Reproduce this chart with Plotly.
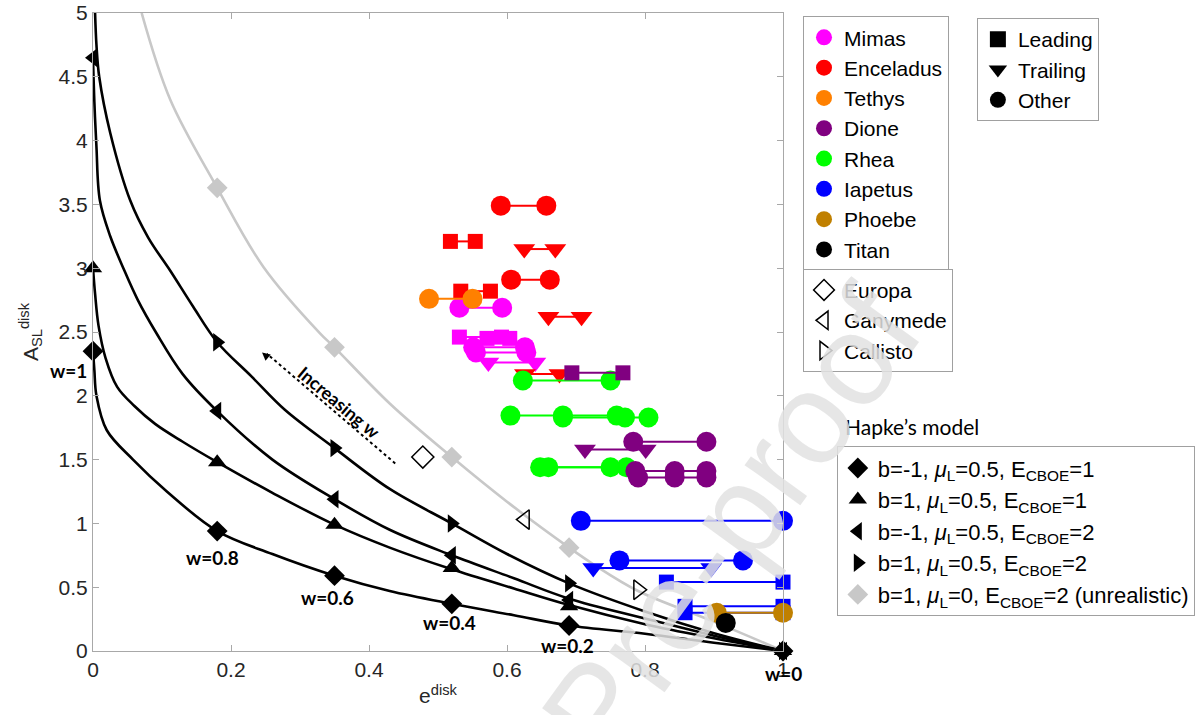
import plotly.graph_objects as go

# ---------------- Hapke model curves ----------------
w_labels = ["w=1", "w=0.8", "w=0.6", "w=0.4", "w=0.2", "w=0"]
e_w = [0.0, 0.18, 0.35, 0.52, 0.69, 1.0]
A_diamond_w = [2.35, 0.94, 0.59, 0.37, 0.20, 0.0]
A_tri_up_w = [3.0, 1.48, 0.99, 0.65, 0.35, 0.0]
A_tri_left_w = [4.65, 1.88, 1.19, 0.75, 0.40, 0.0]
A_tri_right_w = [None, 2.42, 1.59, 1.00, 0.53, 0.0]
A_grey_w = [None, 3.63, 2.38, 1.52, 0.81, 0.0]

diamond_e = [0.0, 0.002, 0.005, 0.02, 0.058, 0.107, 0.18, 0.26, 0.35, 0.43, 0.52, 0.61, 0.69, 0.80, 0.90, 1.0]
diamond_A = [2.35, 2.2, 2.0, 1.73, 1.5, 1.25, 0.94, 0.76, 0.59, 0.47, 0.37, 0.28, 0.20, 0.135, 0.065, 0.0]
tri_up_e = [0.0, 0.003, 0.008, 0.018, 0.035, 0.06, 0.09, 0.13, 0.18, 0.26, 0.35, 0.43, 0.52, 0.61, 0.69, 0.80, 0.90, 1.0]
tri_up_A = [3.0, 2.8, 2.55, 2.3, 2.07, 1.92, 1.78, 1.64, 1.48, 1.24, 0.99, 0.81, 0.64, 0.49, 0.36, 0.21, 0.10, 0.0]
tri_left_e = [0.0, 0.002, 0.005, 0.010, 0.025, 0.044, 0.065, 0.092, 0.13, 0.18, 0.26, 0.35, 0.43, 0.52, 0.61, 0.69, 0.80, 0.90, 1.0]
tri_left_A = [4.65, 4.3, 3.95, 3.53, 3.25, 3.0, 2.75, 2.49, 2.17, 1.88, 1.5, 1.19, 0.95, 0.75, 0.57, 0.41, 0.255, 0.12, 0.0]
tri_right_e = [0.003, 0.005, 0.009, 0.025, 0.054, 0.08, 0.112, 0.145, 0.18, 0.23, 0.278, 0.35, 0.43, 0.52, 0.60, 0.69, 0.80, 0.90, 1.0]
tri_right_A = [5.0, 4.75, 4.5, 4.06, 3.53, 3.24, 2.98, 2.70, 2.42, 2.15, 1.89, 1.59, 1.27, 1.0, 0.76, 0.53, 0.31, 0.14, 0.0]
grey_e = [0.0705, 0.112, 0.18, 0.247, 0.329, 0.35, 0.43, 0.52, 0.60, 0.69, 0.725, 0.79, 0.90, 1.0]
grey_A = [5.0, 4.32, 3.63, 3.01, 2.49, 2.38, 1.94, 1.52, 1.17, 0.81, 0.68, 0.47, 0.23, 0.0]

hapke_names = [
    "b=-1, <i>μ</i><sub>L</sub>=0.5, E<sub>CBOE</sub>=1",
    "b=1, <i>μ</i><sub>L</sub>=0.5, E<sub>CBOE</sub>=1",
    "b=-1, <i>μ</i><sub>L</sub>=0.5, E<sub>CBOE</sub>=2",
    "b=1, <i>μ</i><sub>L</sub>=0.5, E<sub>CBOE</sub>=2",
    "b=1, <i>μ</i><sub>L</sub>=0, E<sub>CBOE</sub>=2 (unrealistic)",
]

# ---------------- Observations (Saturn moons) ----------------
moons = ["Mimas", "Enceladus", "Tethys", "Dione", "Rhea", "Iapetus", "Phoebe", "Titan"]
moon_colors = ["#FF00FF", "#FF0000", "#FF8000", "#800080", "#00FF00", "#0000FF", "#C08000", "#000000"]

mimas_e = [[0.531, 0.592], [0.571, 0.604], [0.551, 0.626], [0.555, 0.628], [0.573, 0.641], [0.531, 0.593]]
mimas_A = [2.46, 2.45, 2.38, 2.34, 2.26, 2.69]
mimas_type = ["Leading", "Leading", "Other", "Other", "Trailing", "Other"]

enceladus_e = [[0.591, 0.657], [0.518, 0.554], [0.625, 0.670], [0.606, 0.662], [0.533, 0.576], [0.660, 0.708], [0.626, 0.676]]
enceladus_A = [3.49, 3.21, 3.15, 2.91, 2.82, 2.62, 2.17]
enceladus_type = ["Other", "Leading", "Trailing", "Other", "Leading", "Trailing", "Trailing"]

tethys_e = [[0.487, 0.550]]
tethys_A = [2.76]
tethys_type = ["Other"]

rhea_e = [[0.623, 0.750], [0.605, 0.681, 0.759], [0.681, 0.771, 0.805], [0.648, 0.750], [0.660, 0.773]]
rhea_A = [2.12, 1.845, 1.83, 1.44, 1.44]
rhea_type = ["Other", "Other", "Other", "Other", "Other"]

dione_e = [[0.694, 0.768], [0.783, 0.889], [0.713, 0.801], [0.786, 0.843, 0.889], [0.790, 0.843, 0.889]]
dione_A = [2.18, 1.64, 1.58, 1.41, 1.36]
dione_type = ["Leading", "Other", "Trailing", "Other", "Other"]

iapetus_e = [[0.707, 1.0], [0.763, 0.942], [0.725, 0.896], [0.831, 1.0], [0.858, 1.0], [0.858, 1.0]]
iapetus_A = [1.02, 0.71, 0.65, 0.54, 0.35, 0.30]
iapetus_type = ["Other", "Other", "Trailing", "Leading", "Leading", "Leading"]

phoebe_e = [[0.904, 1.0]]
phoebe_A = [0.30]
phoebe_type = ["Other"]

titan_e = [[0.917]]
titan_A = [0.22]
titan_type = ["Other"]

# Galilean satellites
galilean = ["Europa", "Ganymede", "Callisto"]
galilean_e = [0.478, 0.626, 0.790]
galilean_A = [1.52, 1.03, 0.48]

types = ["Leading", "Trailing", "Other"]

# ---------------- styles ----------------
FONT = "Liberation Sans, Arial, Helvetica, sans-serif"
CAL = "Lato, Open Sans, sans-serif"
type_symbol = {"Leading": "square", "Trailing": "triangle-down", "Other": "circle"}
type_size = {"Leading": 15, "Trailing": 19, "Other": 20}

fig = go.Figure()

# model curves (grey first, underneath)
curves = [
    (grey_e, grey_A, "#c8c8c8"),
    (diamond_e, diamond_A, "black"),
    (tri_up_e, tri_up_A, "black"),
    (tri_left_e, tri_left_A, "black"),
    (tri_right_e, tri_right_A, "black"),
]
for ce, ca, col in curves:
    fig.add_trace(go.Scatter(x=ce, y=ca, mode="lines",
                             line=dict(color=col, width=2.6, shape="spline", smoothing=1.0),
                             showlegend=False, hoverinfo="skip"))

marker_sets = [
    (A_grey_w, "diamond", "#c8c8c8", 4),
    (A_diamond_w, "diamond", "black", 0),
    (A_tri_up_w, "triangle-up", "black", 1),
    (A_tri_left_w, "triangle-left", "black", 2),
    (A_tri_right_w, "triangle-right", "black", 3),
]
for aw, sym, col, idx in marker_sets:
    fig.add_trace(go.Scatter(x=e_w, y=aw, mode="markers", name=hapke_names[idx],
                             marker=dict(symbol=sym, color=col, size=16),
                             legend="legend4", legendrank=idx, cliponaxis=False, hoverinfo="skip"))

# observations
obs = {
    "Mimas": (mimas_e, mimas_A, mimas_type),
    "Enceladus": (enceladus_e, enceladus_A, enceladus_type),
    "Tethys": (tethys_e, tethys_A, tethys_type),
    "Rhea": (rhea_e, rhea_A, rhea_type),
    "Dione": (dione_e, dione_A, dione_type),
    "Iapetus": (iapetus_e, iapetus_A, iapetus_type),
    "Phoebe": (phoebe_e, phoebe_A, phoebe_type),
    "Titan": (titan_e, titan_A, titan_type),
}
for moon in ["Mimas", "Enceladus", "Tethys", "Rhea", "Dione", "Iapetus", "Phoebe", "Titan"]:
    col = moon_colors[moons.index(moon)]
    es, As, ts = obs[moon]
    for ev, av, tv in zip(es, As, ts):
        fig.add_trace(go.Scatter(x=ev, y=[av] * len(ev), mode="lines+markers",
                                 line=dict(color=col, width=2),
                                 marker=dict(symbol=type_symbol[tv], size=type_size[tv], color=col),
                                 showlegend=False, cliponaxis=False, hoverinfo="skip"))

# Galilean satellites (hollow markers)
gal_symbols = ["diamond-open", "triangle-left-open", "triangle-right-open"]
for i, g in enumerate(galilean):
    fig.add_trace(go.Scatter(x=[galilean_e[i]], y=[galilean_A[i]], mode="markers", name=g,
                             marker=dict(symbol=gal_symbols[i], size=17, color="black", line=dict(width=1.5)),
                             legend="legend3", hoverinfo="skip"))

# legend-only entries: moons
for moon, col in zip(moons, moon_colors):
    fig.add_trace(go.Scatter(x=[None], y=[None], mode="markers", name=moon,
                             marker=dict(symbol="circle", size=16, color=col), legend="legend"))
# legend-only entries: observation types
for t in types:
    fig.add_trace(go.Scatter(x=[None], y=[None], mode="markers", name=t,
                             marker=dict(symbol=type_symbol[t], size=16, color="black"), legend="legend2"))

# ---------------- annotations ----------------
label_shifts = [(-25, -19), (-5, -26), (-7, -22), (-2, -19), (-2, -20), (0, -22)]
annotations = []
for i, lab in enumerate(w_labels):
    annotations.append(dict(x=e_w[i], y=A_diamond_w[i], xref="x", yref="y", text="<b>" + lab + "</b>",
                            showarrow=False, xshift=label_shifts[i][0], yshift=label_shifts[i][1],
                            font=dict(family=CAL, size=19, color="black")))

annotations.append(dict(x=0.356, y=1.95, xref="x", yref="y", text="<b>Increasing w</b>", textangle=40,
                        showarrow=False, font=dict(family=CAL, size=18, color="black")))
annotations.append(dict(x=0.245, y=2.34, xref="x", yref="y", text="", showarrow=True,
                        ax=7, ay=6, arrowhead=2, arrowsize=1, arrowwidth=1.6, arrowcolor="black"))
annotations.append(dict(x=1.087, y=0.352, xref="paper", yref="paper", text="Hapke’s model",
                        showarrow=False, xanchor="left", yanchor="middle",
                        font=dict(family=CAL, size=21, color="black")))
# watermark
annotations.append(dict(x=0.926, y=0.20, xref="paper", yref="paper", text="Pre-proof",
                        showarrow=False, textangle=-54, xanchor="center", yanchor="middle",
                        font=dict(family=FONT, size=130, color="rgba(226,226,226,0.85)")))

shapes = [dict(type="line", xref="x", yref="y", x0=0.438, y0=1.47, x1=0.252, y1=2.33,
               line=dict(color="black", width=2, dash="dot"))]

axis_common = dict(showline=True, linecolor="#a8a8a8", linewidth=1, mirror="ticks", ticks="inside",
                   ticklen=6, tickcolor="#a8a8a8", showgrid=False, zeroline=False,
                   ticklabeloverflow="allow",
                   tickfont=dict(family=FONT, size=21, color="#262626"))

fig.update_layout(
    width=1203, height=715,
    margin=dict(l=93, r=420, t=13, b=64, autoexpand=False),
    paper_bgcolor="white", plot_bgcolor="white",
    xaxis=dict(range=[0, 1], tickvals=[0, 0.2, 0.4, 0.6, 0.8, 1], ticktext=["0", "0.2", "0.4", "0.6", "0.8", "1"],
               title=dict(text="e<sup>disk</sup>", font=dict(family=FONT, size=21, color="#262626"), standoff=8),
               **axis_common),
    yaxis=dict(range=[0, 5], tickvals=[0, 0.5, 1, 1.5, 2, 2.5, 3, 3.5, 4, 4.5, 5],
               ticktext=["0", "0.5", "1", "1.5", "2", "2.5", "3", "3.5", "4", "4.5", "5"],
               title=dict(text="A<sub>SL</sub><sup>disk</sup>", font=dict(family=FONT, size=21, color="#262626"), standoff=14),
               **axis_common),
    legend=dict(x=1.029, y=0.995, xanchor="left", yanchor="top", bordercolor="#a0a0a0", borderwidth=1,
                bgcolor="white", font=dict(family=FONT, size=21, color="black"), tracegroupgap=0),
    legend2=dict(x=1.281, y=0.992, xanchor="left", yanchor="top", bordercolor="#a0a0a0", borderwidth=1,
                 bgcolor="white", font=dict(family=FONT, size=21, color="black")),
    legend3=dict(x=1.029, y=0.599, xanchor="left", yanchor="top", bordercolor="#a0a0a0", borderwidth=1,
                 bgcolor="white", font=dict(family=FONT, size=21, color="black")),
    legend4=dict(x=1.078, y=0.321, xanchor="left", yanchor="top", bordercolor="#a0a0a0", borderwidth=1,
                 bgcolor="white", font=dict(family=FONT, size=22, color="black")),
    annotations=annotations,
    shapes=shapes,
)

fig.write_html("out.html",
               config={"displayModeBar": False},
               post_script="document.body.style.margin='0';document.body.style.padding='0';"
                           "document.documentElement.style.overflow='hidden';")
